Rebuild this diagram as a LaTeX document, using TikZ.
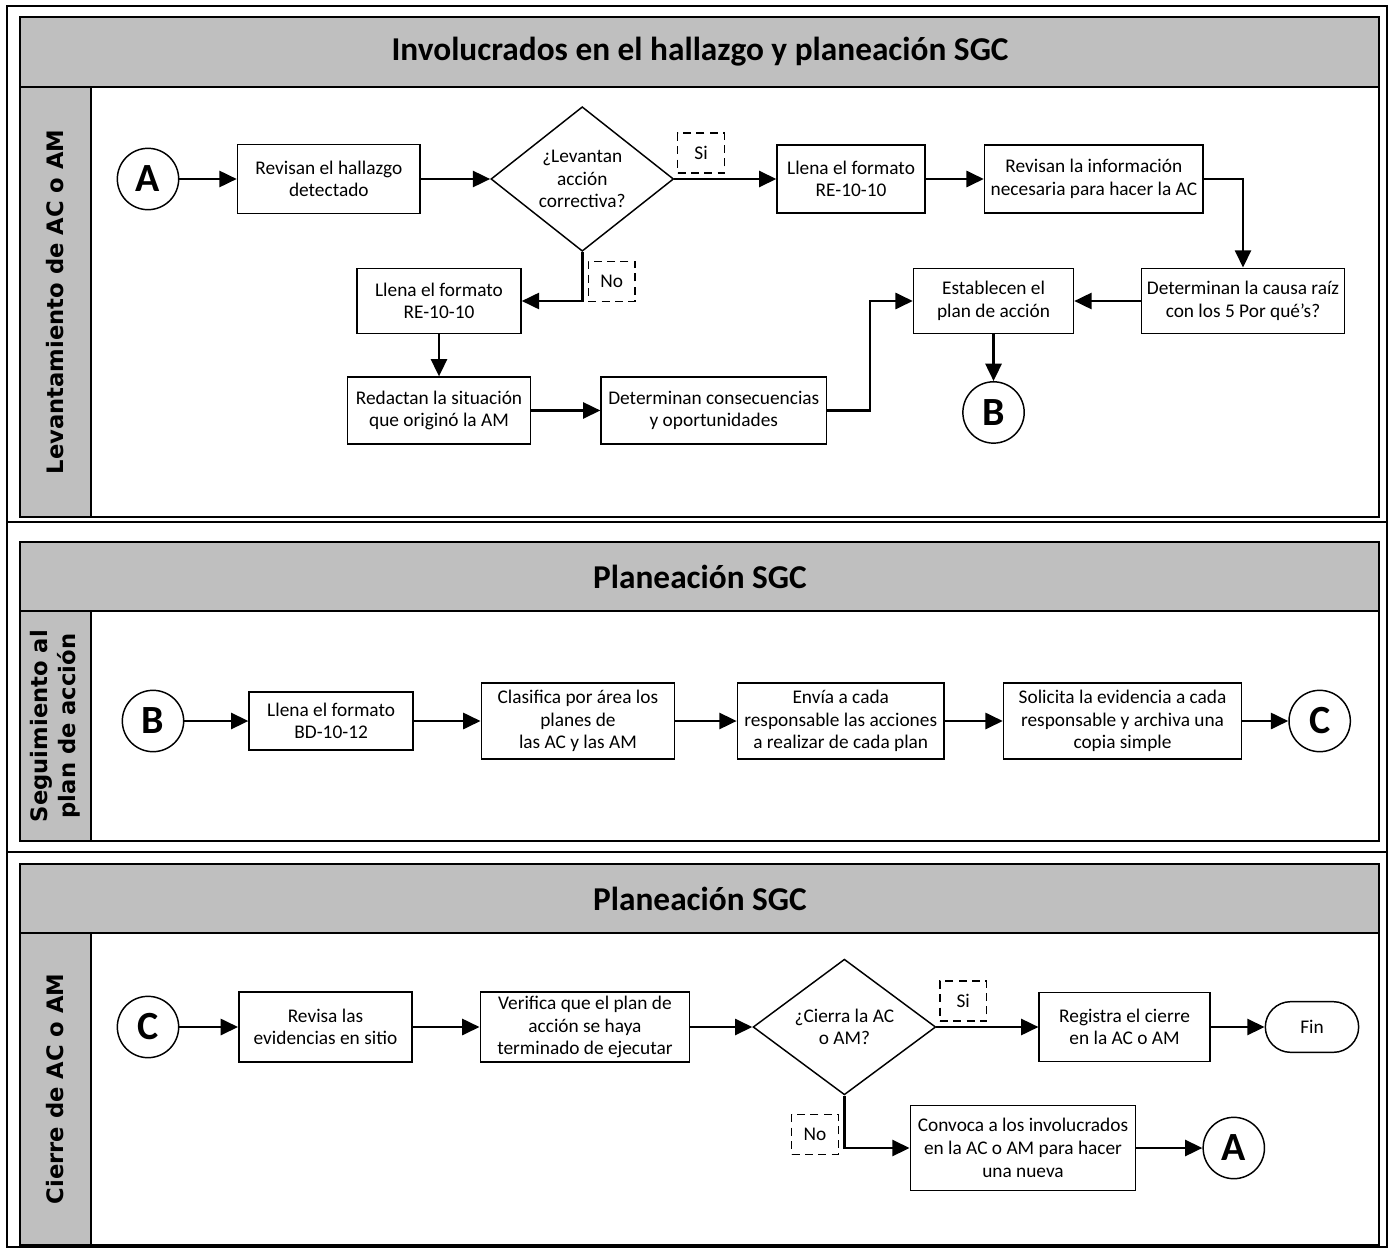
\documentclass[tikz,border=0pt]{standalone}
\usepackage{fontspec}
\setmainfont{Carlito}
\newfontfamily\lanefont{DejaVu Sans}
\usetikzlibrary{arrows.meta, positioning, shapes.geometric}

\definecolor{bandgray}{RGB}{191,191,191}

\begin{document}
\begin{tikzpicture}[x=0.75pt, y=-0.75pt,
    proc/.style={draw, line width=1.1pt, fill=white, align=center, inner sep=2pt, font=\fontsize{14.5}{17}\selectfont},
    decis/.style={draw, diamond, line width=1.1pt, fill=white, align=center, inner sep=0pt, minimum width=137pt, minimum height=89pt, font=\fontsize{14.5}{17}\selectfont},
    conn/.style={draw, circle, line width=1.1pt, fill=white, minimum size=46pt, inner sep=0pt, font=\fontsize{30}{30}\selectfont\bfseries},
    term/.style={draw, rounded corners=19pt, line width=1.1pt, minimum width=70pt, minimum height=38pt, font=\fontsize{14.5}{17}\selectfont},
    lbl/.style={draw, dash pattern=on 6pt off 4pt, line width=1.1pt, minimum width=35pt, minimum height=30pt, inner sep=1pt, font=\fontsize{14.5}{17}\selectfont},
    arr/.style={-{Triangle[length=13pt, width=12pt]}, line width=2pt},
    band/.style={draw, line width=1.1pt, fill=bandgray},
    pooltitle/.style={font=\fontsize{25}{30}\selectfont\bfseries},
    lanetxt/.style={rotate=90, align=center, font=\lanefont\bfseries\fontsize{17}{21}\selectfont}
]
    \useasboundingbox (0,0) rectangle (1392,1249);

    % outer table
    \draw[line width=1.5pt] (7,6) rectangle (1387,1247);
    \draw[line width=1.5pt] (7,522) -- (1387,522);
    \draw[line width=1.5pt] (7,852) -- (1387,852);

    % pool 1
    \draw[line width=1.1pt] (20,17) rectangle (1379,517);
    \draw[band] (20,17) rectangle (1379,87);
    \draw[band] (20,87) rectangle (91,517);
    \node[pooltitle] (title1) at (700,52) {Involucrados en el hallazgo y planeación SGC};
    \node[lanetxt] (lane1) at (55,302) {Levantamiento de AC o AM};

    \node[conn] (A1) at (148,179) {A};
    \node[proc, minimum width=137pt, minimum height=52pt, right=43pt of A1] (hallazgo) {Revisan el hallazgo\\detectado};
    \node[decis, right=52pt of hallazgo] (levanta) {¿Levantan\\acción\\correctiva?};
    \node[proc, minimum width=111pt, minimum height=51pt, right=76.5pt of levanta] (formatoA) {Llena el formato\\RE-10-10};
    \node[proc, minimum width=164pt, minimum height=51pt, right=43.5pt of formatoA] (info) {Revisan la información\\necesaria para hacer la AC};
    \node[proc, minimum width=152pt, minimum height=49pt] (causa) at (1243,301) {Determinan la causa raíz\\con los 5 Por qué’s?};
    \node[proc, minimum width=120pt, minimum height=49pt, left=50pt of causa] (plan) {Establecen el\\plan de acción};
    \node[conn, below=35pt of plan] (B1) {B};
    \node[proc, minimum width=123pt, minimum height=49pt] (formatoB) at (439,301) {Llena el formato\\RE-10-10};
    \node[proc, minimum width=137pt, minimum height=50pt, below=31.5pt of formatoB] (redactan) {Redactan la situación\\que originó la AM};
    \node[proc, minimum width=169pt, minimum height=50pt, right=52pt of redactan] (consec) {Determinan consecuencias\\y oportunidades};

    \draw[arr] (A1) -- (hallazgo);
    \draw[arr] (hallazgo) -- (levanta);
    \draw[arr] (levanta) -- node[lbl, pos=0, anchor=south west, xshift=2pt, yshift=4pt] {Si} (formatoA);
    \draw[arr] (formatoA) -- (info);
    \draw[arr] (info.east) -| (causa.north);
    \draw[arr] (causa) -- (plan);
    \draw[arr] (plan) -- (B1);
    \draw[arr] (levanta.south) |- node[lbl, pos=0.3, anchor=west, xshift=4pt] {No} (formatoB.east);
    \draw[arr] (formatoB) -- (redactan);
    \draw[arr] (redactan) -- (consec);
    \draw[arr] (consec.east) -- ++(32pt,0) |- (plan.west);

    % pool 2
    \draw[line width=1.1pt] (20,542) rectangle (1379,841);
    \draw[band] (20,542) rectangle (1379,611);
    \draw[band] (20,611) rectangle (91,841);
    \node[pooltitle] (title2) at (700,577) {Planeación SGC};
    \node[lanetxt] (lane2) at (55,726) {Seguimiento al\\plan de acción};

    \node[conn] (B2) at (153,721) {B};
    \node[proc, minimum width=123pt, minimum height=43.5pt, right=48pt of B2] (formatoBD) {Llena el formato\\BD-10-12};
    \node[proc, minimum width=145pt, minimum height=57pt, right=50pt of formatoBD] (clasifica) {Clasifica por área los\\planes de\\las AC y las AM};
    \node[proc, minimum width=155pt, minimum height=57pt, right=46pt of clasifica] (envia) {Envía a cada\\responsable las acciones\\a realizar de cada plan};
    \node[proc, minimum width=178.5pt, minimum height=57pt, right=43.5pt of envia] (solicita) {Solicita la evidencia a cada\\responsable y archiva una\\copia simple};
    \node[conn, right=34.5pt of solicita] (C2) {C};

    \draw[arr] (B2) -- (formatoBD);
    \draw[arr] (formatoBD) -- (clasifica);
    \draw[arr] (clasifica) -- (envia);
    \draw[arr] (envia) -- (solicita);
    \draw[arr] (solicita) -- (C2);

    % pool 3
    \draw[line width=1.1pt] (20,864) rectangle (1379,1245);
    \draw[band] (20,864) rectangle (1379,933);
    \draw[band] (20,933) rectangle (91,1245);
    \node[pooltitle] (title3) at (700,899) {Planeación SGC};
    \node[lanetxt] (lane3) at (55,1089) {Cierre de AC o AM};

    \node[conn] (C3) at (148,1027) {C};
    \node[proc, minimum width=130pt, minimum height=52.5pt, right=44pt of C3] (revisa) {Revisa las\\evidencias en sitio};
    \node[proc, minimum width=157pt, minimum height=52.5pt, right=50pt of revisa] (verifica) {Verifica que el plan de\\acción se haya\\terminado de ejecutar};
    \node[decis, right=46.5pt of verifica] (cierra) {¿Cierra la AC\\o AM?};
    \node[proc, minimum width=128pt, minimum height=52pt, right=76.5pt of cierra] (registra) {Registra el cierre\\en la AC o AM};
    \node[term, right=40.5pt of registra] (fin) {Fin};
    \node[proc, minimum width=169pt, minimum height=64pt] (convoca) at (1023,1148) {Convoca a los involucrados\\en la AC o AM para hacer\\una nueva};
    \node[conn, right=49.5pt of convoca] (A3) {A};

    \draw[arr] (C3) -- (revisa);
    \draw[arr] (revisa) -- (verifica);
    \draw[arr] (verifica) -- (cierra);
    \draw[arr] (cierra) -- node[lbl, pos=0, anchor=south west, xshift=2pt, yshift=4pt] {Si} (registra);
    \draw[arr] (registra) -- (fin);
    \draw[arr] (cierra.south) |- node[lbl, pos=0.37, anchor=east, xshift=-4pt] {No} (convoca.west);
    \draw[arr] (convoca) -- (A3);
\end{tikzpicture}
\end{document}
